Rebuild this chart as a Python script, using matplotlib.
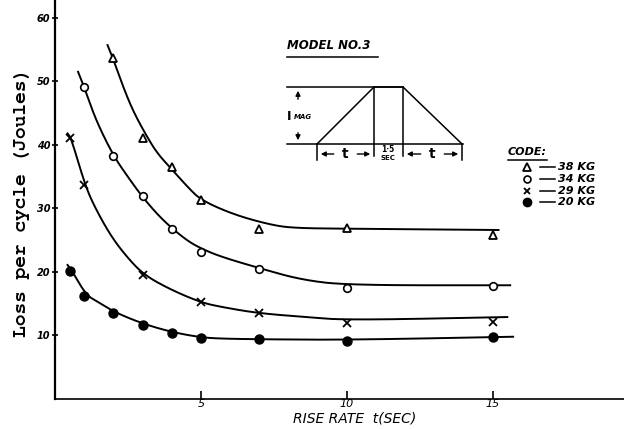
import matplotlib
matplotlib.use('Agg')
import matplotlib.pyplot as plt
import numpy as np

# measured points (rise time t in sec, loss in joules)
x38 = [2, 3, 4, 5, 7, 10, 15]
y38 = [53.7, 41.1, 36.5, 31.3, 26.8, 26.9, 25.8]
x34 = [1, 2, 3, 4, 5, 7, 10, 15]
y34 = [49.1, 38.3, 32.0, 26.8, 23.2, 20.5, 17.5, 17.8]
x29 = [0.5, 1, 3, 5, 7, 10, 15]
y29 = [41.1, 33.7, 19.5, 15.3, 13.5, 12.0, 12.1]
x20 = [0.5, 1, 2, 3, 4, 5, 7, 10, 15]
y20 = [20.2, 16.2, 13.5, 11.7, 10.4, 9.6, 9.4, 9.2, 9.7]

# hand drawn curves
cx38 = [1.8, 1.98, 2.37, 2.72, 3.2, 3.52, 3.97, 4.54, 5.0, 6.14, 7.4, 8.2, 10.0, 15.2]
cy38 = [55.7, 53.7, 48.7, 44.9, 40.9, 38.6, 36.3, 33.4, 31.3, 29.0, 27.4, 26.9, 26.8, 26.6]
cx34 = [0.79, 1.0, 1.4, 2.0, 2.49, 2.98, 3.52, 4.0, 4.54, 5.0, 5.68, 7.0, 8.4, 10.0, 15.6]
cy34 = [51.5, 49.1, 43.9, 38.3, 35.0, 31.9, 29.0, 26.9, 24.9, 23.7, 22.4, 20.6, 18.8, 17.9, 17.9]
cx29 = [0.43, 0.55, 1.03, 1.35, 1.92, 2.49, 3.06, 3.97, 5.0, 5.68, 6.96, 8.6, 10.0, 15.5]
cy29 = [41.8, 41.1, 33.7, 30.3, 25.6, 22.2, 19.5, 17.2, 15.2, 14.5, 13.5, 12.9, 12.4, 12.9]
cx20 = [0.43, 0.58, 1.06, 1.46, 2.07, 3.04, 4.03, 5.0, 5.68, 7.0, 10.0, 15.7]
cy20 = [21.1, 20.2, 16.4, 15.3, 13.6, 11.8, 10.5, 9.7, 9.5, 9.4, 9.3, 9.8]

codes = ['38 KG', '34 KG', '29 KG', '20 KG']


def smooth(x, y, n=5):
    # chaikin corner cutting, just to draw the pen line smoothly
    p = np.column_stack([x, y]).astype(float)
    for _ in range(n):
        q = 0.75 * p[:-1] + 0.25 * p[1:]
        r = 0.25 * p[:-1] + 0.75 * p[1:]
        mid = np.empty((2 * len(q), 2))
        mid[0::2] = q
        mid[1::2] = r
        p = np.vstack([p[:1], mid, p[-1:]])
    return p[:, 0], p[:, 1]


fig = plt.figure(figsize=(6.24, 4.29), dpi=100)
ax = fig.add_axes([55 / 624, 30 / 429, 569 / 624, 399 / 429])

for cx, cy in [(cx38, cy38), (cx34, cy34), (cx29, cy29), (cx20, cy20)]:
    sx, sy = smooth(cx, cy)
    ax.plot(sx, sy, color='black', lw=1.4)

ax.plot(x38, y38, ls='none', marker='^', ms=6, mfc='white', mec='black', mew=1.3)
ax.plot(x34, y34, ls='none', marker='o', ms=5.5, mfc='white', mec='black', mew=1.2)
ax.plot(x29, y29, ls='none', marker='x', ms=5.5, mec='black', mew=1.3)
ax.plot(x20, y20, ls='none', marker='o', ms=6.5, mfc='black', mec='black')

ax.set_xlim(0, 19.5)
ax.set_ylim(0, 62.8)
for s in ['top', 'right']:
    ax.spines[s].set_visible(False)
ax.spines['left'].set_linewidth(1.6)
ax.spines['bottom'].set_linewidth(1.2)

ax.set_xticks([5, 10, 15])
ax.set_xticklabels(['5', '10', '15'], fontsize=8, fontstyle='italic')
ax.tick_params(axis='x', direction='in', length=6, width=1.2, pad=0)
ax.set_yticks([10, 20, 30, 40, 50, 60])
ax.set_yticklabels(['10', '20', '30', '40', '50', '60'], fontsize=7,
                   fontstyle='italic', fontweight='bold')
ax.tick_params(axis='y', direction='inout', length=5, width=1.2, pad=1)

# overlay in pixel coords for labels, sketch and code key
ov = fig.add_axes([0, 0, 1, 1])
ov.set_xlim(0, 624)
ov.set_ylim(429, 0)
ov.axis('off')
ov.patch.set_visible(False)

ov.text(22, 202, 'Loss per cycle (Joules)', rotation=90, ha='center', va='center',
        fontsize=14, fontweight='bold',
        family=['Courier New', 'Nimbus Mono PS', 'FreeMono', 'Liberation Mono'])
ov.text(355, 419, 'RISE RATE  t(SEC)', ha='center', va='center', fontsize=10,
        fontstyle='italic')

# model sketch
k = dict(color='black', lw=1.1)
ov.text(287, 52, 'MODEL NO.3', fontsize=8.5, fontstyle='italic', fontweight='bold',
        va='bottom')
ov.plot([287, 378], [57, 57], **k)
ov.plot([287, 403], [87, 87], **k)
ov.plot([287, 463], [144, 144], **k)
ov.plot([317, 374, 403, 462], [144, 87, 87, 144], **k)
ov.plot([374, 374], [87, 156], **k)
ov.plot([403, 403], [87, 156], **k)
ov.plot([317, 317], [144, 160], **k)
ov.plot([462, 462], [144, 160], **k)
arr = dict(arrowstyle='-|>', color='black', lw=1, mutation_scale=7)
ov.annotate('', xy=(298, 88), xytext=(298, 102), arrowprops=arr)
ov.annotate('', xy=(298, 143), xytext=(298, 130), arrowprops=arr)
ov.text(287, 116, 'I', fontsize=9, fontweight='bold', va='center')
ov.text(294, 117, 'MAG', fontsize=5, fontstyle='italic', fontweight='bold', va='center')
for a, b in [(317, 374), (403, 462)]:
    m = (a + b) / 2
    ov.annotate('', xy=(a + 1, 154), xytext=(m - 9, 154), arrowprops=arr)
    ov.annotate('', xy=(b - 1, 154), xytext=(m + 9, 154), arrowprops=arr)
    ov.text(m, 154, 't', fontsize=10, fontweight='bold', ha='center', va='center')
ov.text(388, 150, '1·5', fontsize=5.5, fontweight='bold', ha='center', va='center')
ov.text(388, 158, 'SEC', fontsize=5, fontweight='bold', ha='center', va='center')

# code key
ov.text(508, 157, 'CODE:', fontsize=8, fontstyle='italic', fontweight='bold', va='bottom')
ov.plot([508, 547], [160, 160], **k)
rows = [167, 179, 191, 202]
marks = [dict(marker='^', ms=5.5, mfc='white', mew=1.3),
         dict(marker='o', ms=5, mfc='white', mew=1.2),
         dict(marker='x', ms=5, mew=1.3),
         dict(marker='o', ms=6, mfc='black')]
for yy, lab, mk in zip(rows, codes, marks):
    ov.plot([527], [yy], ls='none', mec='black', **mk)
    ov.plot([540, 555], [yy, yy], **k)
    ov.text(558, yy, lab, fontsize=8, fontstyle='italic', fontweight='bold', va='center')

fig.savefig('out.png', dpi=100)
